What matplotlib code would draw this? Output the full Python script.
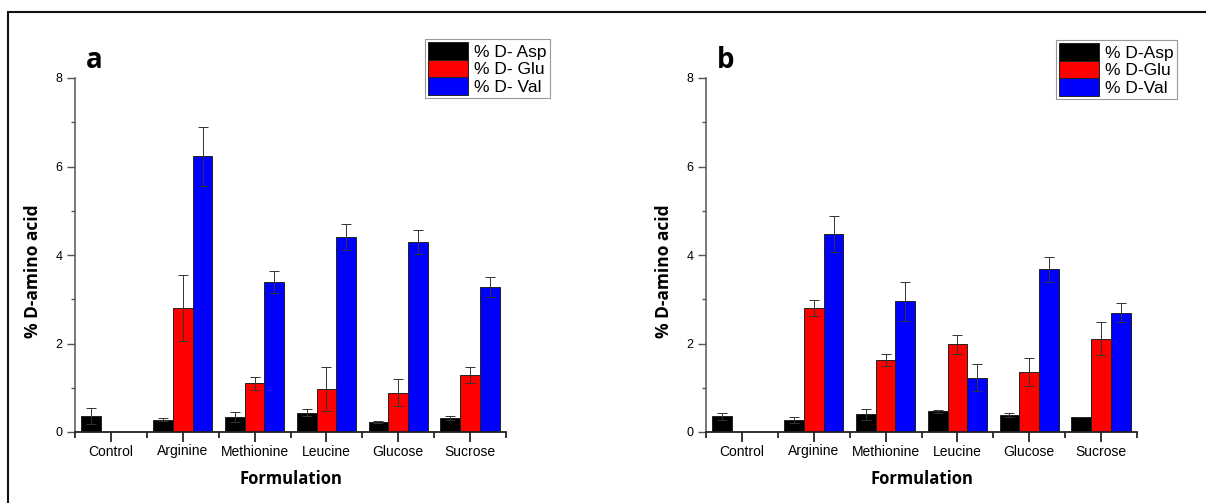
import matplotlib.pyplot as plt
import numpy as np
from matplotlib.patches import Rectangle

plt.rcParams["font.family"] = ["Liberation Sans", "DejaVu Sans"]

formulations = ["Control", "Arginine", "Methionine", "Leucine", "Glucose", "Sucrose"]

# panel a
a_asp = [0.36, 0.28, 0.34, 0.44, 0.22, 0.32]
a_asp_err = [0.18, 0.03, 0.11, 0.08, 0.02, 0.04]
a_glu = [None, 2.80, 1.10, 0.98, 0.89, 1.29]
a_glu_err = [None, 0.74, 0.14, 0.50, 0.31, 0.18]
a_val = [None, 6.23, 3.38, 4.40, 4.30, 3.28]
a_val_err = [None, 0.66, 0.25, 0.29, 0.27, 0.23]

# panel b
b_asp = [0.36, 0.28, 0.40, 0.47, 0.38, 0.34]
b_asp_err = [0.08, 0.07, 0.12, 0.03, 0.04, 0.01]
b_glu = [None, 2.80, 1.63, 1.98, 1.35, 2.11]
b_glu_err = [None, 0.18, 0.13, 0.21, 0.32, 0.37]
b_val = [None, 4.47, 2.95, 1.23, 3.68, 2.70]
b_val_err = [None, 0.41, 0.45, 0.31, 0.28, 0.21]

a_labels = ["% D- Asp", "% D- Glu", "% D- Val"]
b_labels = ["% D-Asp", "% D-Glu", "% D-Val"]
colors = ["#000000", "#ff0000", "#0000ff"]

W, H = 1206, 503
BOLD = dict(family=["Open Sans", "DejaVu Sans"], fontweight="bold")


def px_axes(fig, left, right, bottom, top):
    return fig.add_axes([left / W, 1 - bottom / H, (right - left) / W, (bottom - top) / H])


def draw_panel(ax, series, errors, labels, letter, legend_xy):
    width = 0.275
    x = np.arange(len(formulations))
    handles = []
    for k, (vals, errs) in enumerate(zip(series, errors)):
        idx = [i for i, v in enumerate(vals) if v is not None]
        xs = x[idx] + (k - 1) * width
        hs = [vals[i] for i in idx]
        es = [errs[i] for i in idx]
        bars = ax.bar(xs, hs, width=width, color=colors[k], edgecolor="#222222",
                      linewidth=0.7, label=labels[k], zorder=2)
        ax.errorbar(xs, hs, yerr=es, fmt="none", ecolor="#333333", elinewidth=0.7,
                    capsize=3.5, capthick=0.7, zorder=3)
        handles.append(bars)

    ax.set_xlim(-0.5, len(formulations) - 0.5)
    ax.set_ylim(0, 8)
    ax.set_xticks(x)
    ax.set_xticklabels(formulations, fontsize=10)
    ax.set_xticks(np.arange(-0.5, len(formulations)), minor=True)
    ax.set_yticks([0, 2, 4, 6, 8])
    ax.set_yticks([1, 3, 5, 7], minor=True)
    ax.tick_params(axis="y", which="major", labelsize=9, length=6, width=1,
                   color="#555555", pad=3)
    ax.tick_params(axis="y", which="minor", length=3, width=1, color="#555555")
    ax.tick_params(axis="x", which="major", length=7, width=1.1, pad=2)
    ax.tick_params(axis="x", which="minor", length=4, width=1.1)
    for s in ("top", "right"):
        ax.spines[s].set_visible(False)
    ax.spines["left"].set_color("#555555")
    ax.spines["left"].set_linewidth(1.1)
    ax.spines["bottom"].set_color("#222222")
    ax.spines["bottom"].set_linewidth(1.3)

    ax.set_ylabel("% D-amino acid", fontsize=12.5, **BOLD)
    ax.yaxis.set_label_coords(-0.077, 0.455)
    ax.set_xlabel("Formulation", fontsize=12, labelpad=8, **BOLD)
    ax.text(0.045, 1.05, letter, transform=ax.transAxes, fontsize=20,
            va="center", ha="center", **BOLD)

    leg = ax.legend(handles=handles, loc="upper left",
                    bbox_to_anchor=(legend_xy[0] / W, 1 - legend_xy[1] / H),
                    bbox_transform=ax.figure.transFigure, borderaxespad=0,
                    fontsize=12.5, handlelength=2.25, handleheight=1.15,
                    labelspacing=0.0, handletextpad=0.35, borderpad=0.2,
                    fancybox=False, framealpha=1)
    leg.get_frame().set_edgecolor("#999999")
    leg.get_frame().set_linewidth(0.8)


fig = plt.figure(figsize=(W / 100, H / 100), dpi=100)

ax_a = px_axes(fig, 75, 506, 432, 78)
draw_panel(ax_a, [a_asp, a_glu, a_val], [a_asp_err, a_glu_err, a_val_err],
           a_labels, "a", (425, 39))

ax_b = px_axes(fig, 706, 1137, 432, 78)
draw_panel(ax_b, [b_asp, b_glu, b_val], [b_asp_err, b_glu_err, b_val_err],
           b_labels, "b", (1056, 40))

# outer frame (only top and left edges fall inside the image)
fig.add_artist(Rectangle((8 / W, -0.1), 1.2, 1.1 - 12 / H, transform=fig.transFigure,
                         fill=False, edgecolor="#111111", linewidth=1.5, clip_on=False))

fig.savefig("out.png", dpi=100)
